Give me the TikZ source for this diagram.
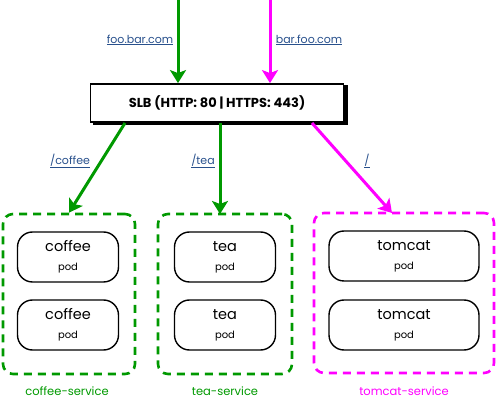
\documentclass[tikz,border=0pt]{standalone}
\usepackage{fontspec}
\setmainfont{Poppins}
\usetikzlibrary{arrows.meta,calc}
\definecolor{grn}{RGB}{0,153,0}
\definecolor{mag}{RGB}{255,0,255}
\definecolor{lnk}{RGB}{40,80,140}
\tikzset{
  flow/.style={line width=3pt,-{Stealth[length=13pt,width=16pt,inset=3pt]}},
  svcbox/.style={draw,line width=2.6pt,dash pattern=on 8pt off 6pt,rounded corners=10pt,minimum height=160pt},
  podbox/.style={draw=black,line width=1.4pt,rounded corners=15pt,minimum height=50pt,align=center,inner sep=0pt},
  lnklabel/.style={text=lnk,font=\fontsize{11}{13}\selectfont,inner sep=1pt},
  svclabel/.style={font=\fontsize{11.5}{13}\selectfont}
}
\newcommand{\ul}[1]{\underline{#1}}
\newcommand{\podtxt}[1]{\fontsize{14.5}{16}\selectfont #1\\[7pt]\fontsize{10}{12}\selectfont pod}
\begin{document}
\begin{tikzpicture}[x=1pt,y=-1pt]
\useasboundingbox (0,0) rectangle (496,403);
% SLB
\fill[black] (93,85) rectangle (348,125);
\node[draw=black,fill=white,line width=1.8pt,minimum width=253pt,minimum height=38pt,inner sep=0pt,
  font=\bfseries\fontsize{13}{15}\selectfont] (slb) at (217,103) {SLB (HTTP: 80 | HTTPS: 443)};
% services
\node[svcbox,draw=grn,minimum width=132pt] (coffeesvc) at (69,294) {};
\node[svcbox,draw=grn,minimum width=134pt] (teasvc) at (225,294) {};
\node[svcbox,draw=mag,minimum width=180pt] (tomcatsvc) at (404,293) {};
% pods
\node[podbox,minimum width=101pt] (coffee1) at (68,257) {\podtxt{coffee}};
\node[podbox,minimum width=101pt] (coffee2) at (68,325) {\podtxt{coffee}};
\node[podbox,minimum width=101pt] (tea1) at (225,257) {\podtxt{tea}};
\node[podbox,minimum width=101pt] (tea2) at (225,325) {\podtxt{tea}};
\node[podbox,minimum width=150pt] (tomcat1) at (404,256) {\podtxt{tomcat}};
\node[podbox,minimum width=150pt] (tomcat2) at (404,325) {\podtxt{tomcat}};
% service labels
\node[svclabel,text=grn] (coffeelbl) at (67,391) {coffee-service};
\node[svclabel,text=grn] (tealbl) at (225,391) {tea-service};
\node[svclabel,text=mag] (tomcatlbl) at (404,391) {tomcat-service};
% coordinates
\coordinate (in1) at (178,0);
\coordinate (in2) at (270,0);
\coordinate (out1) at (125,123);
\coordinate (out2) at (220,123);
\coordinate (out3) at (312,123);
\coordinate (t1) at (coffeesvc.north);
\coordinate (t2) at (220,214);
\coordinate (t3) at (392,213);
% arrows
\draw[flow,grn] (in1) -- (in1 |- slb.north);
\draw[flow,mag] (in2) -- (in2 |- slb.north);
\draw[flow,grn] (out1) -- (t1);
\draw[flow,grn] (out2) -- (t2);
\draw[flow,mag] (out3) -- (t3);
% link labels
\node[lnklabel] (l1) at (140,40) {\ul{foo.bar.com}};
\node[lnklabel] (l2) at (309,40) {\ul{bar.foo.com}};
\node[lnklabel] (l3) at (70,161) {\ul{/coffee}};
\node[lnklabel] (l4) at (203,161) {\ul{/tea}};
\node[lnklabel] (l5) at (367,161) {\ul{/}};
\end{tikzpicture}
\end{document}
